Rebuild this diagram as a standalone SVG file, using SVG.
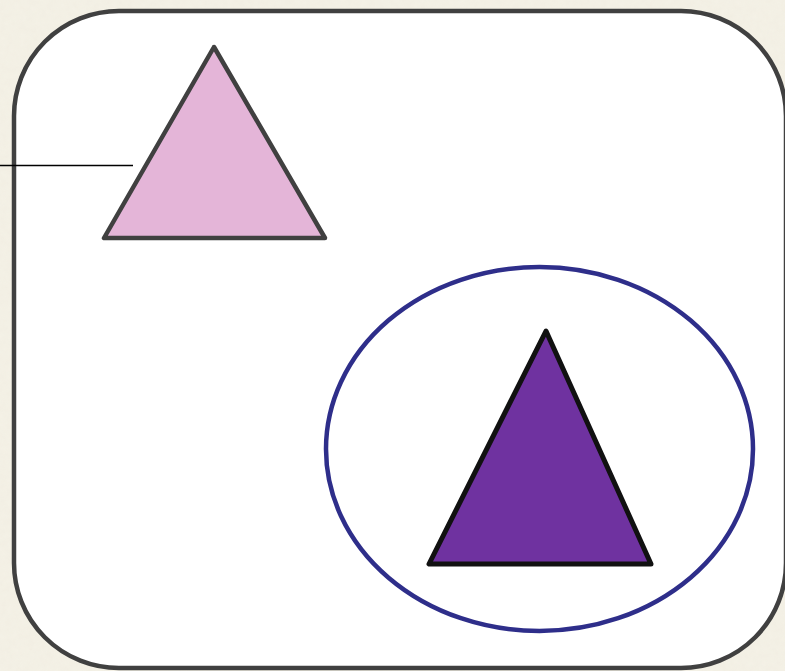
<svg xmlns="http://www.w3.org/2000/svg" width="785" height="671" viewBox="0 0 785 671">
  <style>
    .frame { fill: #ffffff; stroke: #404040; stroke-width: 4.5; }
    .tri1 { fill: #e4b5d8; stroke: #404040; stroke-width: 4.5; stroke-linejoin: round; }
    .tri2 { fill: #6f32a0; stroke: #111111; stroke-width: 5; stroke-linejoin: round; }
    .ring { fill: none; stroke: #2e2e8a; stroke-width: 4.5; }
    .conn { stroke: #000000; stroke-width: 1.6; fill: none; }
  </style>
  <defs>
    <filter id="paper" x="0" y="0" width="100%" height="100%">
      <feTurbulence type="fractalNoise" baseFrequency="0.15" numOctaves="2" seed="3" result="n"/>
      <feColorMatrix in="n" type="matrix" values="0 0 0 0 0.88  0 0 0 0 0.85  0 0 0 0 0.76  0 0 0 1.2 -0.2" result="c"/>
      <feComposite in="c" in2="SourceGraphic" operator="in"/>
    </filter>
  </defs>
  <rect x="0" y="0" width="785" height="671" fill="#f4f1e6"/>
  <rect x="0" y="0" width="785" height="671" fill="#f4f1e6" filter="url(#paper)" opacity="0.8"/>
  <g id="frame">
    <rect class="frame" x="14" y="11" width="772" height="657" rx="105" ry="105"/>
  </g>
  <g id="pink-triangle">
    <polygon class="tri1" points="214,47 104,238 325,238"/>
  </g>
  <g id="ellipse">
    <ellipse class="ring" cx="539.5" cy="449" rx="213.5" ry="182"/>
  </g>
  <g id="purple-triangle">
    <polygon class="tri2" points="546,331 429,564 651,564"/>
  </g>
  <g id="connectors">
    <line class="conn" x1="0" y1="165.5" x2="133" y2="165.5"/>
  </g>
</svg>
